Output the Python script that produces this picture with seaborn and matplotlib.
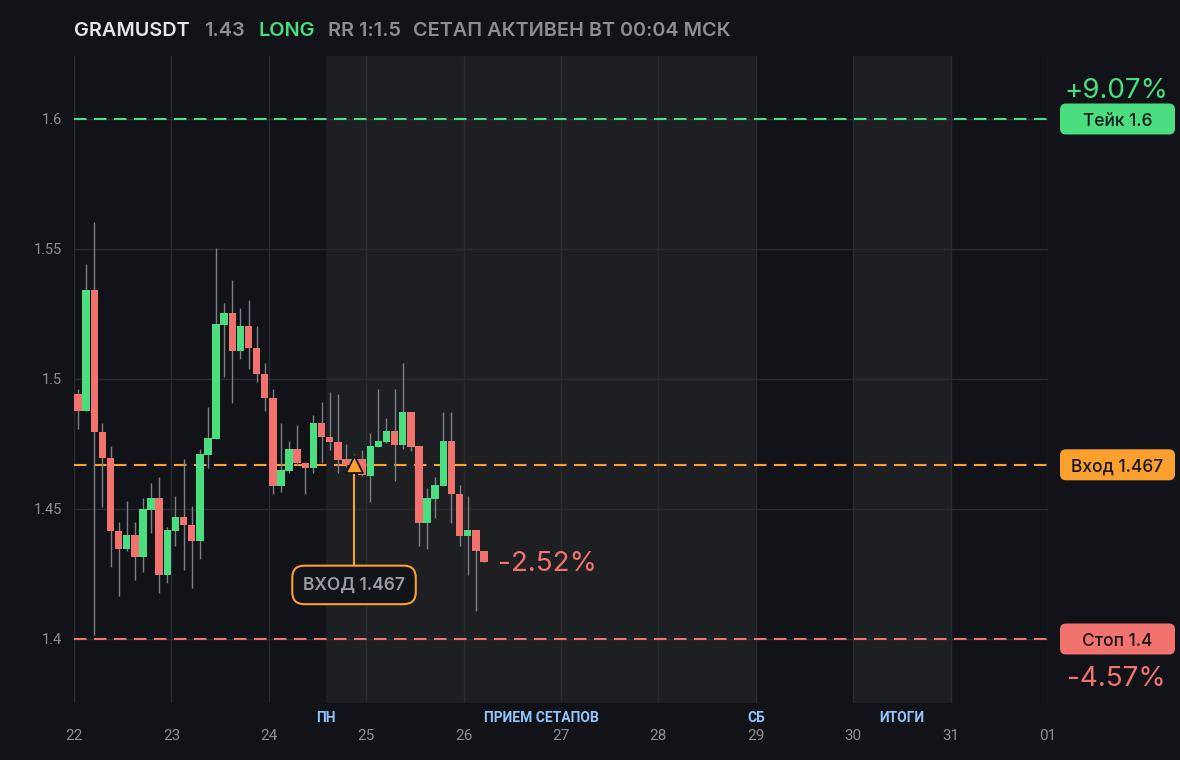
import matplotlib
matplotlib.use("Agg")
import numpy as np
import pandas as pd
import seaborn as sns
import matplotlib.pyplot as plt
from matplotlib.patches import FancyBboxPatch
from matplotlib.transforms import IdentityTransform

# ---------------- data ----------------
symbol = "GRAMUSDT"
last_price = "1.43"
side = "LONG"
rr_text = "RR 1:1.5"
status_text = "СЕТАП АКТИВЕН ВТ 00:04 МСК"

start_day = 22          # first day on the axis (22 March)
candles_per_day = 12    # 2h candles

opens = [1.4942, 1.4878, 1.5342, 1.4797, 1.4697, 1.4417, 1.4347, 1.4400, 1.4317, 1.4497,
         1.4542, 1.4247, 1.4417, 1.4469, 1.4440, 1.4378, 1.4709, 1.4770, 1.5208, 1.5254,
         1.5108, 1.5204, 1.5119, 1.5019, 1.4927, 1.4588, 1.4646, 1.4731, 1.4677, 1.4658,
         1.4831, 1.4777, 1.4758, 1.4692, 1.4669, 1.4692, 1.4627, 1.4738, 1.4758, 1.4800,
         1.4746, 1.4873, 1.4742, 1.4446, 1.4538, 1.4588, 1.4762, 1.4558, 1.4396, 1.4419,
         1.4338]
highs = [1.4962, 1.5442, 1.5604, 1.4831, 1.4742, 1.4450, 1.4531, 1.4450, 1.4542, 1.4600,
         1.4623, 1.4431, 1.4550, 1.4692, 1.4512, 1.4731, 1.4892, 1.5504, 1.5292, 1.5381,
         1.5273, 1.5304, 1.5204, 1.5062, 1.4962, 1.4831, 1.4762, 1.4823, 1.4681, 1.4862,
         1.4912, 1.4950, 1.4942, 1.4750, 1.4712, 1.4727, 1.4792, 1.4962, 1.4850, 1.4962,
         1.5062, 1.4873, 1.4742, 1.4581, 1.4623, 1.4873, 1.4873, 1.4592, 1.4550, 1.4419,
         1.4338]
lows = [1.4808, 1.4878, 1.4015, 1.4509, 1.4278, 1.4165, 1.4340, 1.4228, 1.4259, 1.4409,
        1.4178, 1.4217, 1.4359, 1.4267, 1.4197, 1.4309, 1.4659, 1.4770, 1.5009, 1.4908,
        1.5077, 1.5038, 1.4988, 1.4877, 1.4558, 1.4565, 1.4640, 1.4669, 1.4558, 1.4638,
        1.4677, 1.4727, 1.4638, 1.4660, 1.4650, 1.4627, 1.4527, 1.4738, 1.4755, 1.4608,
        1.4731, 1.4723, 1.4358, 1.4346, 1.4465, 1.4588, 1.4446, 1.4358, 1.4246, 1.4108,
        1.4296]
closes = [1.4878, 1.5342, 1.4797, 1.4697, 1.4417, 1.4347, 1.4400, 1.4317, 1.4500, 1.4542,
          1.4247, 1.4419, 1.4469, 1.4440, 1.4378, 1.4712, 1.4773, 1.5212, 1.5254, 1.5108,
          1.5204, 1.5119, 1.5019, 1.4927, 1.4588, 1.4650, 1.4731, 1.4677, 1.4658, 1.4831,
          1.4777, 1.4758, 1.4688, 1.4669, 1.4692, 1.4631, 1.4742, 1.4762, 1.4800, 1.4746,
          1.4873, 1.4738, 1.4446, 1.4542, 1.4592, 1.4762, 1.4558, 1.4396, 1.4419, 1.4338,
          1.4296]

take_level = 1.6
entry_level = 1.467
stop_level = 1.4
take_label = "Тейк 1.6"
entry_label = "Вход 1.467"
stop_label = "Стоп 1.4"
entry_marker_label = "ВХОД 1.467"
take_pct = "+9.07%"
stop_pct = "-4.57%"
current_pct = "-2.52%"
entry_candle = 34

y_ticks = [1.4, 1.45, 1.5, 1.55, 1.6]
y_tick_labels = ["1.4", "1.45", "1.5", "1.55", "1.6"]
x_ticks = [22, 23, 24, 25, 26, 27, 28, 29, 30, 31, 32]
x_tick_labels = ["22", "23", "24", "25", "26", "27", "28", "29", "30", "31", "01"]
zone_starts = [24.583, 30.0]
zone_ends = [29.0, 31.0]
zone_label_pos = [24.583, 26.795, 29.0, 30.5]
zone_label_text = ["ПН", "ПРИЕМ СЕТАПОВ", "СБ", "ИТОГИ"]

df = pd.DataFrame({"open": opens, "high": highs, "low": lows, "close": closes})
df["t"] = start_day + (np.arange(len(df)) + 0.5) / candles_per_day

# ---------------- style ----------------
BG = "#121318"
ZONE = "#1e1f23"
GRID = "#2a2b30"
GREEN = "#4ade80"
RED = "#f2736e"
ORANGE = "#fb9f2e"
GRAY = "#8b8e95"
BLUE = "#93c5fd"
WICK = "#7c7f86"

sns.set_theme(style="dark", rc={
    "figure.facecolor": BG, "axes.facecolor": BG, "savefig.facecolor": BG,
    "axes.edgecolor": BG, "text.color": GRAY,
})
plt.rcParams["font.family"] = ["Inter", "Roboto", "DejaVu Sans"]

W, H = 1180, 760
fig = plt.figure(figsize=(W / 100, H / 100), dpi=100)
ax = fig.add_axes([74 / W, 57 / H, 974 / W, 647 / H])
ax.set_xlim(22, 32)
ax.set_ylim(1.37538, 1.62423)
for s in ax.spines.values():
    s.set_visible(False)

# zones
for a, b in zip(zone_starts, zone_ends):
    ax.axvspan(a, b, color=ZONE, lw=0, zorder=0)

# grid
for xv in x_ticks:
    ax.axvline(xv, color=GRID, lw=1, zorder=1)
for yv in y_ticks:
    ax.axhline(yv, color=GRID, lw=1, zorder=1)

# level lines
dash = (0, (6, 3.6))
ax.axhline(take_level, color=GREEN, lw=1.5, ls=dash, zorder=2)
ax.axhline(entry_level, color=ORANGE, lw=1.5, ls=dash, zorder=2)
ax.axhline(stop_level, color=RED, lw=1.5, ls=dash, zorder=2)

# candles
up = df["close"] >= df["open"]
colors = np.where(up, GREEN, RED)
width = 0.92 / candles_per_day
ax.vlines(df["t"], df["low"], df["high"], color=WICK, lw=1, zorder=3)
body_bottom = np.minimum(df["open"], df["close"])
body_h = np.maximum(np.abs(df["close"] - df["open"]), 0.0004)
ax.bar(df["t"], body_h, bottom=body_bottom, width=width, color=colors, lw=0, zorder=4)

# entry marker
xe = df["t"].iloc[entry_candle]
box_y = entry_level - 0.0462
ax.plot([xe, xe], [entry_level, box_y], color=ORANGE, lw=1.5, zorder=5)
sns.scatterplot(x=[xe], y=[entry_level + 0.0003], marker="^", s=150, color=ORANGE,
                edgecolor="#15161a", linewidth=1.3, zorder=6, ax=ax, legend=False)
ax.text(xe, box_y, entry_marker_label, ha="center", va="center", fontsize=12.5,
        fontweight="semibold", color="#9a9ca3", zorder=7,
        bbox=dict(boxstyle="round,pad=0.62,rounding_size=0.7", fc="#131419", ec=ORANGE, lw=1.5))

# current pct next to last candle
ax.annotate(current_pct, xy=(df["t"].iloc[-1], df["close"].iloc[-1]), xytext=(10.5, -1.5),
            textcoords="offset points", ha="left", va="center", fontsize=20, color=RED)

# ticks
ax.set_xticks(x_ticks)
ax.set_xticklabels(x_tick_labels)
ax.set_yticks(y_ticks)
ax.set_yticklabels(y_tick_labels)
ax.tick_params(axis="x", length=0, pad=19, labelsize=11, labelcolor=GRAY)
ax.tick_params(axis="y", length=0, pad=8.5, labelsize=10.5, labelcolor=GRAY)
for lab in ax.get_xticklabels() + ax.get_yticklabels():
    lab.set_fontfamily(["Roboto", "DejaVu Sans"])

for xp, txt in zip(zone_label_pos, zone_label_text):
    ax.annotate(txt, xy=(xp, 0), xycoords=("data", "axes fraction"), xytext=(0, -11),
                textcoords="offset points", ha="center", va="center", fontsize=10,
                fontweight="semibold", color=BLUE, family=["Roboto", "DejaVu Sans"])

# right-side tags
fig.canvas.draw()
ident = IdentityTransform()
def tag(level, text, color):
    yd = ax.transData.transform((22, level))[1]
    fig.add_artist(FancyBboxPatch((1060, yd - 15.5), 115, 31,
                                  boxstyle="round,pad=0,rounding_size=6",
                                  transform=ident, fc=color, ec="none"))
    fig.text(1117.5, yd - 2.5, text, transform=ident, ha="center", va="center",
             fontsize=12.5, fontweight="medium", color="#15161a")
    return yd

y_take = tag(take_level, take_label, GREEN)
tag(entry_level, entry_label, ORANGE)
y_stop = tag(stop_level, stop_label, RED)
fig.text(1116.5, y_take + 28, take_pct, transform=ident, ha="center", va="center",
         fontsize=20, color=GREEN)
fig.text(1116.5, y_stop - 40, stop_pct, transform=ident, ha="center", va="center",
         fontsize=20, color=RED)

# header
header = [(74, symbol, "#e6e7ea"), (204, last_price, GRAY), (258, side, GREEN),
          (328, rr_text, GRAY), (413, status_text, GRAY)]
for xp, txt, col in header:
    fig.text(xp, H - 31, txt, transform=ident, ha="left", va="center",
             fontsize=14.3, fontweight="semibold", color=col)

fig.savefig("out.png", dpi=100)
